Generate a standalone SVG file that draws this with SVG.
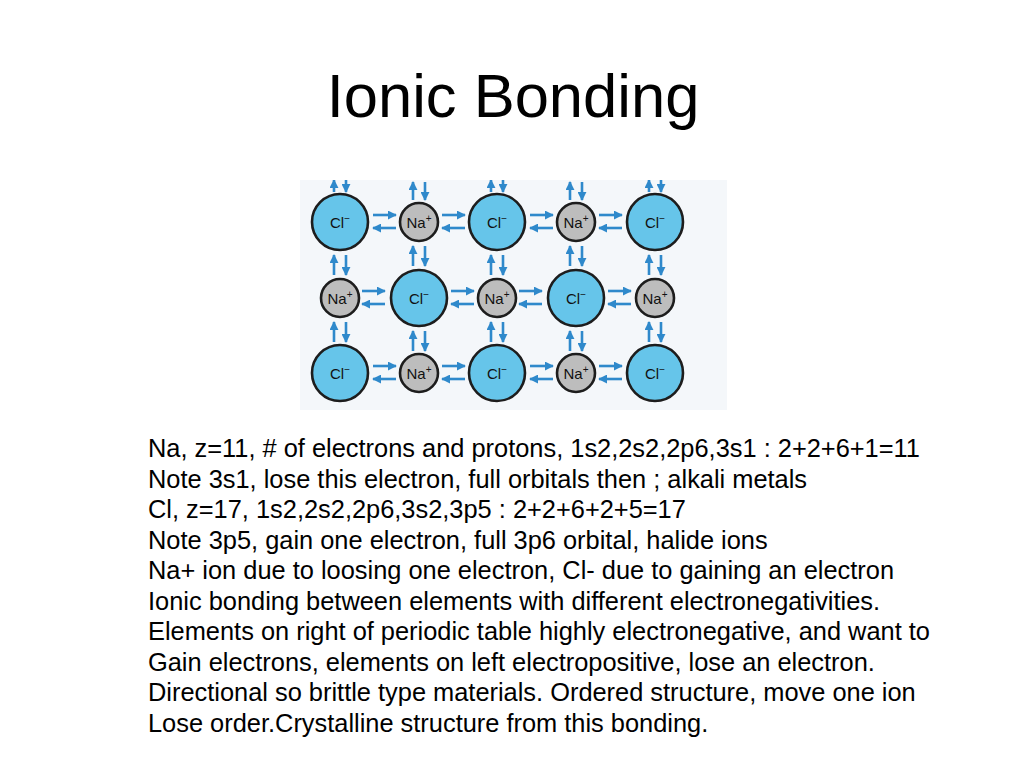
<svg xmlns="http://www.w3.org/2000/svg" width="1024" height="768" viewBox="0 0 1024 768">
<style>
.title{font-family:"Liberation Sans",Arial,sans-serif;font-size:61.5px;fill:#000}
.body{font-family:"Liberation Sans",Arial,sans-serif;font-size:25.4px;fill:#000}
.cl{fill:#66c5ea;stroke:#1d1d1d;stroke-width:2.6}
.na{fill:#bdbdbd;stroke:#1d1d1d;stroke-width:2.6}
.lbl{font-family:"Liberation Sans",Arial,sans-serif;font-size:15px;fill:#111;text-anchor:middle}
.sup{font-size:10px}
.ar{stroke:#2f89cb;stroke-width:2.6;fill:none;marker-end:url(#ah)}
</style>
<defs>
<marker id="ah" viewBox="0 0 10 10" refX="9" refY="5" markerWidth="9" markerHeight="9" markerUnits="userSpaceOnUse" orient="auto">
<path d="M0,0 L10,5 L0,10 Z" fill="#2f89cb"/>
</marker>
<clipPath id="img"><rect x="300" y="180" width="427" height="230"/></clipPath>
</defs>
<rect width="1024" height="768" fill="#fff"/>
<text class="title" x="513" y="117" text-anchor="middle">Ionic Bonding</text>
<rect x="300" y="180" width="427" height="230" fill="#f4f7fa"/>
<g clip-path="url(#img)">
<g id="connectors">
<line class="ar" x1="334" y1="192" x2="334" y2="180"/>
<line class="ar" x1="346" y1="180" x2="346" y2="192"/>
<line class="ar" x1="413" y1="200" x2="413" y2="182"/>
<line class="ar" x1="425" y1="182" x2="425" y2="200"/>
<line class="ar" x1="491" y1="192" x2="491" y2="180"/>
<line class="ar" x1="503" y1="180" x2="503" y2="192"/>
<line class="ar" x1="570" y1="200" x2="570" y2="182"/>
<line class="ar" x1="582" y1="182" x2="582" y2="200"/>
<line class="ar" x1="649" y1="192" x2="649" y2="180"/>
<line class="ar" x1="661" y1="180" x2="661" y2="192"/>
<line class="ar" x1="373" y1="215" x2="396" y2="215"/>
<line class="ar" x1="396" y1="228" x2="373" y2="228"/>
<line class="ar" x1="442" y1="215" x2="465" y2="215"/>
<line class="ar" x1="465" y1="228" x2="442" y2="228"/>
<line class="ar" x1="530" y1="215" x2="553" y2="215"/>
<line class="ar" x1="553" y1="228" x2="530" y2="228"/>
<line class="ar" x1="599" y1="215" x2="622" y2="215"/>
<line class="ar" x1="622" y1="228" x2="599" y2="228"/>
<line class="ar" x1="362" y1="291" x2="385" y2="291"/>
<line class="ar" x1="385" y1="304" x2="362" y2="304"/>
<line class="ar" x1="451" y1="291" x2="474" y2="291"/>
<line class="ar" x1="474" y1="304" x2="451" y2="304"/>
<line class="ar" x1="519" y1="291" x2="542" y2="291"/>
<line class="ar" x1="542" y1="304" x2="519" y2="304"/>
<line class="ar" x1="608" y1="291" x2="631" y2="291"/>
<line class="ar" x1="631" y1="304" x2="608" y2="304"/>
<line class="ar" x1="373" y1="366" x2="396" y2="366"/>
<line class="ar" x1="396" y1="379" x2="373" y2="379"/>
<line class="ar" x1="442" y1="366" x2="465" y2="366"/>
<line class="ar" x1="465" y1="379" x2="442" y2="379"/>
<line class="ar" x1="530" y1="366" x2="553" y2="366"/>
<line class="ar" x1="553" y1="379" x2="530" y2="379"/>
<line class="ar" x1="599" y1="366" x2="622" y2="366"/>
<line class="ar" x1="622" y1="379" x2="599" y2="379"/>
<line class="ar" x1="334" y1="275" x2="334" y2="255"/>
<line class="ar" x1="346" y1="255" x2="346" y2="275"/>
<line class="ar" x1="413" y1="266" x2="413" y2="246"/>
<line class="ar" x1="425" y1="246" x2="425" y2="266"/>
<line class="ar" x1="491" y1="275" x2="491" y2="255"/>
<line class="ar" x1="503" y1="255" x2="503" y2="275"/>
<line class="ar" x1="570" y1="266" x2="570" y2="246"/>
<line class="ar" x1="582" y1="246" x2="582" y2="266"/>
<line class="ar" x1="649" y1="275" x2="649" y2="255"/>
<line class="ar" x1="661" y1="255" x2="661" y2="275"/>
<line class="ar" x1="334" y1="342" x2="334" y2="322"/>
<line class="ar" x1="346" y1="322" x2="346" y2="342"/>
<line class="ar" x1="413" y1="351" x2="413" y2="331"/>
<line class="ar" x1="425" y1="331" x2="425" y2="351"/>
<line class="ar" x1="491" y1="342" x2="491" y2="322"/>
<line class="ar" x1="503" y1="322" x2="503" y2="342"/>
<line class="ar" x1="570" y1="351" x2="570" y2="331"/>
<line class="ar" x1="582" y1="331" x2="582" y2="351"/>
<line class="ar" x1="649" y1="342" x2="649" y2="322"/>
<line class="ar" x1="661" y1="322" x2="661" y2="342"/>
</g>
</g>
<g id="r1c1"><circle class="cl" cx="340" cy="222" r="28"/><text class="lbl" x="340" y="227.5">Cl<tspan class="sup" dy="-6">−</tspan></text></g>
<g id="r1c2"><circle class="na" cx="419" cy="222" r="19"/><text class="lbl" x="419" y="227.5">Na<tspan class="sup" dy="-6">+</tspan></text></g>
<g id="r1c3"><circle class="cl" cx="497" cy="222" r="28"/><text class="lbl" x="497" y="227.5">Cl<tspan class="sup" dy="-6">−</tspan></text></g>
<g id="r1c4"><circle class="na" cx="576" cy="222" r="19"/><text class="lbl" x="576" y="227.5">Na<tspan class="sup" dy="-6">+</tspan></text></g>
<g id="r1c5"><circle class="cl" cx="655" cy="222" r="28"/><text class="lbl" x="655" y="227.5">Cl<tspan class="sup" dy="-6">−</tspan></text></g>
<g id="r2c1"><circle class="na" cx="340" cy="298" r="19"/><text class="lbl" x="340" y="303.5">Na<tspan class="sup" dy="-6">+</tspan></text></g>
<g id="r2c2"><circle class="cl" cx="419" cy="298" r="28"/><text class="lbl" x="419" y="303.5">Cl<tspan class="sup" dy="-6">−</tspan></text></g>
<g id="r2c3"><circle class="na" cx="497" cy="298" r="19"/><text class="lbl" x="497" y="303.5">Na<tspan class="sup" dy="-6">+</tspan></text></g>
<g id="r2c4"><circle class="cl" cx="576" cy="298" r="28"/><text class="lbl" x="576" y="303.5">Cl<tspan class="sup" dy="-6">−</tspan></text></g>
<g id="r2c5"><circle class="na" cx="655" cy="298" r="19"/><text class="lbl" x="655" y="303.5">Na<tspan class="sup" dy="-6">+</tspan></text></g>
<g id="r3c1"><circle class="cl" cx="340" cy="373" r="28"/><text class="lbl" x="340" y="378.5">Cl<tspan class="sup" dy="-6">−</tspan></text></g>
<g id="r3c2"><circle class="na" cx="419" cy="373" r="19"/><text class="lbl" x="419" y="378.5">Na<tspan class="sup" dy="-6">+</tspan></text></g>
<g id="r3c3"><circle class="cl" cx="497" cy="373" r="28"/><text class="lbl" x="497" y="378.5">Cl<tspan class="sup" dy="-6">−</tspan></text></g>
<g id="r3c4"><circle class="na" cx="576" cy="373" r="19"/><text class="lbl" x="576" y="378.5">Na<tspan class="sup" dy="-6">+</tspan></text></g>
<g id="r3c5"><circle class="cl" cx="655" cy="373" r="28"/><text class="lbl" x="655" y="378.5">Cl<tspan class="sup" dy="-6">−</tspan></text></g>
<g id="notes" class="body">
<text x="148" y="457">Na, z=11, # of electrons and protons, 1s2,2s2,2p6,3s1 : 2+2+6+1=11</text>
<text x="148" y="487.6">Note 3s1, lose this electron, full orbitals then ; alkali metals</text>
<text x="148" y="518.1">Cl, z=17, 1s2,2s2,2p6,3s2,3p5 : 2+2+6+2+5=17</text>
<text x="148" y="548.7">Note 3p5, gain one electron, full 3p6 orbital, halide ions</text>
<text x="148" y="579.2">Na+ ion due to loosing one electron, Cl- due to gaining an electron</text>
<text x="148" y="609.8">Ionic bonding between elements with different electronegativities.</text>
<text x="148" y="640.3">Elements on right of periodic table highly electronegative, and want to</text>
<text x="148" y="670.9">Gain electrons, elements on left electropositive, lose an electron.</text>
<text x="148" y="701.4">Directional so brittle type materials. Ordered structure, move one ion</text>
<text x="148" y="732">Lose order.Crystalline structure from this bonding.</text>
</g>
</svg>
